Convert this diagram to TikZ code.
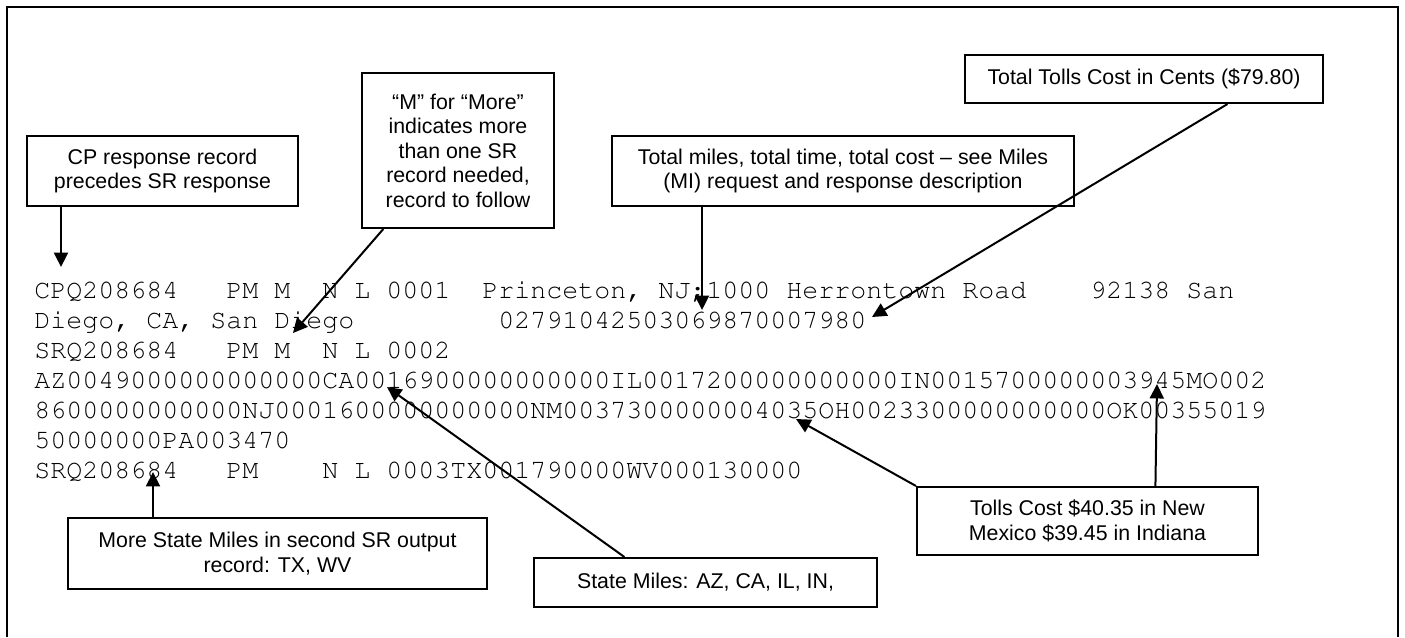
\documentclass[tikz,border=0pt]{standalone}
\usepackage[T1]{fontenc}
\usepackage{fontspec}
\setmainfont{Liberation Sans}
\setmonofont{Liberation Mono}
\usetikzlibrary{arrows.meta, calc}

\begin{document}
\begin{tikzpicture}[x=0.45pt, y=-0.45pt,
  box/.style={draw, line width=0.9pt, inner sep=0pt, align=center, font=\fontsize{9.6}{11}\selectfont},
  rec/.style={anchor=base west, inner sep=0pt, font=\fontencoding{T1}\fontfamily{pcr}\fontsize{12}{13.5}\selectfont},
  arr/.style={line width=0.9pt, -{Triangle[length=6.5pt, width=6.3pt]}}]
\useasboundingbox (0,0) rectangle (1405,637);
\draw[line width=1.2pt] (7,637) -- (7,7) -- (1398,7) -- (1398,637);

% output records
\node[rec] (l1) at (34,298) {CPQ208684~~~PM M~~N L 0001~~Princeton, NJ;1000 Herrontown Road~~~~92138 San};
\node[rec] (l2) at (34,328) {Diego, CA, San Diego~~~~~~~~~02791042503069870007980};
\node[rec] (l3) at (34,358) {SRQ208684~~~PM M~~N L 0002};
\node[rec] (l4) at (34,388) {AZ0049000000000000CA0016900000000000IL0017200000000000IN0015700000003945MO002};
\node[rec] (l5) at (34,418) {8600000000000NJ0001600000000000NM0037300000004035OH0023300000000000OK00355019};
\node[rec] (l6) at (34,448) {50000000PA003470};
\node[rec] (l7) at (34,478) {SRQ208684~~~PM~~~~N L 0003TX001790000WV000130000};

% callouts
\node[box, minimum width=121.95pt, minimum height=31.5pt] (cp) at (162.5,171) {CP response record\\precedes SR response};
\node[box, minimum width=86.4pt, minimum height=69.75pt] (mm) at (458,150.5) {“M” for “More”\\indicates more\\than one SR\\record needed,\\record to follow};
\node[box, minimum width=207.9pt, minimum height=31.5pt] (tm) at (843,171) {Total miles, total time, total cost – see Miles\\(MI) request and response description};
\node[box, minimum width=161.1pt, minimum height=21.6pt] (tc) at (1144,79) {Total Tolls Cost in Cents (\$79.80)};
\node[box, minimum width=153.45pt, minimum height=30.6pt] (nm) at (1087.5,521) {Tolls Cost \$40.35 in New\\Mexico \$39.45 in Indiana};
\node[box, minimum width=188.55pt, minimum height=31.95pt] (sm2) at (277.5,553.5) {More State Miles in second SR output\\record: TX, WV};
\node[box, minimum width=154.35pt, minimum height=22.05pt] (sm) at (705.5,582.5) {State Miles: AZ, CA, IL, IN,};

% arrow tips
\coordinate (p1) at (61,267);
\coordinate (p2) at (293,333);
\coordinate (p3) at (702,310);
\coordinate (p4) at (872,317);
\coordinate (p5) at (796,419);
\coordinate (p6) at (1157,384);
\coordinate (p7) at (153,472);
\coordinate (p8) at (387,387);

\draw[arr] (p1 |- cp.south) -- (p1);
\draw[arr] ($(mm.south west)!0.115!(mm.south east)$) -- (p2);
\draw[arr] (p3 |- tm.south) -- (p3);
\draw[arr] ($(tc.south west)!0.732!(tc.south east)$) -- (p4);
\draw[arr] (nm.north west) -- (p5);
\draw[arr] ($(nm.north west)!0.698!(nm.north east)$) -- (p6);
\draw[arr] (p7 |- sm2.north) -- (p7);
\draw[arr] ($(sm.north west)!0.265!(sm.north east)$) -- (p8);
\end{tikzpicture}
\end{document}
